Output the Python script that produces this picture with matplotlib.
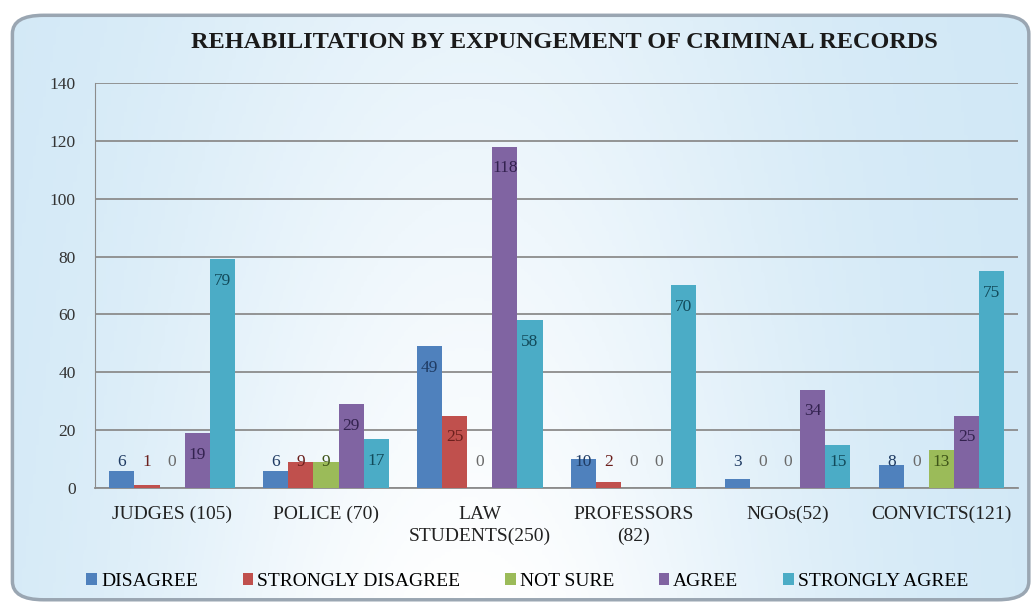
import numpy as np
import matplotlib.pyplot as plt
from matplotlib.patches import FancyBboxPatch, Patch

# 그룹(응답자)과 응답 항목별 값
groups = ["JUDGES (105)", "POLICE (70)", "LAW\nSTUDENTS(250)", "PROFESSORS\n(82)",
          "NGOs(52)", "CONVICTS(121)"]
series_names = ["DISAGREE", "STRONGLY DISAGREE", "NOT SURE", "AGREE", "STRONGLY AGREE"]
disagree = [6, 6, 49, 10, 3, 8]
strongly_disagree = [1, 9, 25, 2, 0, 0]
not_sure = [0, 9, 0, 0, 0, 13]
agree = [19, 29, 118, 0, 34, 25]
strongly_agree = [79, 17, 58, 70, 15, 75]
yticks = [0, 20, 40, 60, 80, 100, 120, 140]

values = [disagree, strongly_disagree, not_sure, agree, strongly_agree]
colors = ["#4F81BD", "#C0504D", "#9BBB59", "#8064A2", "#4BACC6"]
label_colors = ["#1F3B63", "#6B1F1C", "#3E5418", "#33224F", "#124A5A"]

plt.rcParams['font.family'] = ['Liberation Serif', 'DejaVu Serif']

fig = plt.figure(figsize=(10.34, 6.12), dpi=100)

# 배경: 둥근 테두리 + 연한 파란 그라데이션
bg = fig.add_axes([0, 0, 1, 1])
bg.set_xlim(0, 1)
bg.set_ylim(0, 1)
bg.axis("off")
gx, gy = np.meshgrid(np.linspace(0, 1, 300), np.linspace(0, 1, 200))
grad = 0.6 + 0.4 * np.exp(-((gx - 0.45) ** 2) / 0.1) * (0.5 + 0.5 * (1 - gy))
img = bg.imshow(grad, extent=[0.012, 0.995, 0.02, 0.975], origin="lower",
                cmap=plt.matplotlib.colors.LinearSegmentedColormap.from_list(
                    "b", ["#bfdff3", "#ffffff"]), vmin=0.45, vmax=1.0,
                aspect="auto", zorder=0)
box = FancyBboxPatch((0.012, 0.02), 0.983, 0.955,
                     boxstyle="round,pad=0,rounding_size=0.03",
                     facecolor="none", edgecolor="#9aa6b2", linewidth=2.5,
                     transform=bg.transAxes, zorder=1)
bg.add_patch(box)
img.set_clip_path(box)

ax = fig.add_axes([0.092, 0.2026, 0.893, 0.6618])
ax.set_facecolor("none")

n = len(series_names)
width = 0.163
x = np.arange(len(groups))
for i, (name, vals) in enumerate(zip(series_names, values)):
    pos = x + (i - (n - 1) / 2) * width
    ax.bar(pos, vals, width, color=colors[i], label=name, zorder=3)
    for p, v in zip(pos, vals):
        ax.text(p, max(v - 7.5, 9), str(v), ha="center", va="center",
                fontsize=12.5, color=label_colors[i] if v else "#6a6a6a", zorder=4)

ax.set_xlim(-0.5, len(groups) - 0.5)
ax.set_ylim(0, 140)
ax.set_yticks(yticks)
ax.yaxis.grid(True, color="#8c8c8c", linewidth=1.3, zorder=0)
ax.set_axisbelow(True)
for s in ["top", "right"]:
    ax.spines[s].set_visible(False)
ax.spines["left"].set_color("#8c8c8c")
ax.spines["bottom"].set_color("#8c8c8c")
ax.spines["bottom"].set_linewidth(1.3)
ax.tick_params(axis="y", length=0, labelsize=12.5, pad=14, labelcolor="#333333")
ax.tick_params(axis="x", length=0, labelsize=14, pad=13, labelcolor="#222222")
ax.set_xticks(x)
ax.set_xticklabels(groups, linespacing=1.35)

fig.text(0.546, 0.93, "REHABILITATION BY EXPUNGEMENT OF CRIMINAL RECORDS",
         ha="center", va="center", fontsize=17.5, fontweight="bold", color="#1a1a1a")

handles = [Patch(facecolor=c, label=s) for c, s in zip(colors, series_names)]
fig.legend(handles=handles, loc="center", bbox_to_anchor=(0.51, 0.05), ncol=5,
           frameon=False, fontsize=14, handlelength=0.55, handleheight=0.55,
           handletextpad=0.2, columnspacing=2.3)

fig.savefig("out.png", dpi=100)
